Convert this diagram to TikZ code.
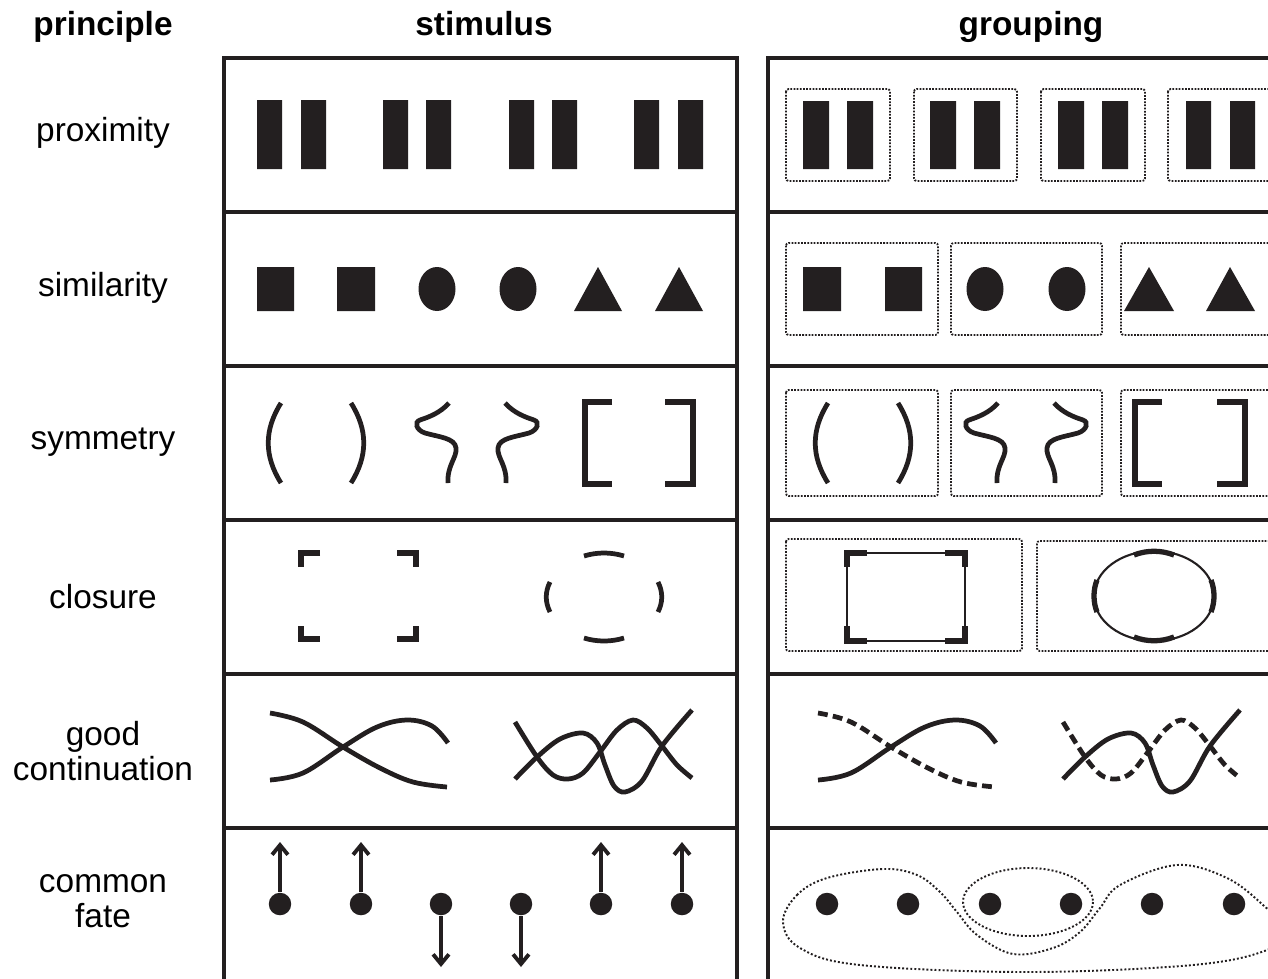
\documentclass[tikz,border=0pt]{standalone}
\usepackage{fontspec}
\setmainfont{Liberation Sans}
\usetikzlibrary{arrows.meta}

\begin{document}
\begin{tikzpicture}[x=0.02cm, y=-0.02cm,
        every node/.style={font=\fontsize{19}{20}\selectfont, align=center, inner sep=0pt},
        heading/.style={font=\fontsize{19}{20}\selectfont\bfseries, anchor=base},
        panel/.style={draw=ink, line width=1.75pt},
        stroke/.style={draw=ink, line width=2.7pt},
        hairline/.style={draw=ink, line width=1.2pt},
        corner/.style={draw=ink, line width=3pt},
        dashedstroke/.style={stroke, dash pattern=on 5.6pt off 3pt},
        groupbox/.style={draw=ink, line width=1.05pt, dash pattern=on 1pt off 0.8pt, rounded corners=1.5pt},
        groupline/.style={draw=ink, line width=1.1pt, dash pattern=on 1.1pt off 1.2pt},
        dot/.style={circle, fill=ink, minimum size=12.8pt},
        move/.style={draw=ink, line width=2pt, -{Straight Barb[length=5.5pt, width=9pt, line width=2.2pt]}},
        ]

        \definecolor{ink}{RGB}{35, 31, 32}

        \newcommand\drawsquiggle[2]{%
            \draw[stroke, shift={(#1,403)}, xscale=#2]
                (0,0) .. controls (-9,10) and (-20,14) .. (-29,17)
                .. controls (-35,19) and (-33,27) .. (-24,30)
                .. controls (-10,34) and (6,35) .. (7,45)
                .. controls (8,55) and (-2,62) .. (-1,80);
        }

        \useasboundingbox (0,0) rectangle (1268,978);
        \clip (0,0) rectangle (1268,978);

        \node[heading] (principle) at (103,35) {principle};
        \node[heading] (stimulus) at (484,35) {stimulus};
        \node[heading] (grouping) at (1031,35) {grouping};

        \node (proximity) at (103,133) {proximity};
        \node (similarity) at (103,288) {similarity};
        \node (symmetry) at (103,442) {symmetry};
        \node (closure) at (103,597) {closure};
        \node (continuation) at (103,751) {good\\continuation};
        \node (fate) at (103,901) {common\\fate};

        \draw[panel] (224,58) rectangle (737,995);
        \draw[panel] (224,212) -- (737,212) (224,366) -- (737,366) (224,520) -- (737,520)
            (224,674) -- (737,674) (224,828) -- (737,828);
        \draw[panel] (768,58) rectangle (1281,995);
        \draw[panel] (768,212) -- (1281,212) (768,366) -- (1281,366) (768,520) -- (1281,520)
            (768,674) -- (1281,674) (768,828) -- (1281,828);

        % proximity
        \fill[ink] (257,100) rectangle (282,169) (301,100) rectangle (326,169)
            (383,100) rectangle (408,169) (426,100) rectangle (451,169)
            (509,100) rectangle (534,169) (552,100) rectangle (577,169)
            (634,100) rectangle (659,169) (678,100) rectangle (703,169);
        \draw[groupbox] (786,89) rectangle (890,181) (914,89) rectangle (1017,181)
            (1041,89) rectangle (1145,181) (1168,89) rectangle (1272,181);
        \fill[ink] (803,101) rectangle (829,169) (847,101) rectangle (873,169)
            (930,101) rectangle (956,169) (974,101) rectangle (1000,169)
            (1058,101) rectangle (1084,169) (1102,101) rectangle (1128,169)
            (1186,101) rectangle (1211,169) (1230,101) rectangle (1255,169);

        % similarity
        \fill[ink] (257,267) rectangle (294,311) (337,267) rectangle (375,311)
            (437,289) ellipse [x radius=18.5, y radius=22] (518,289) ellipse [x radius=18.5, y radius=22]
            (574,311) -- (598,267) -- (622,311) -- cycle (655,311) -- (679,267) -- (703,311) -- cycle;
        \draw[groupbox] (786,243) rectangle (938,335) (951,243) rectangle (1102,335)
            (1121,243) rectangle (1275,335);
        \fill[ink] (803,267) rectangle (841,311) (885,267) rectangle (922,311)
            (985,289) ellipse [x radius=18.5, y radius=22] (1067,289) ellipse [x radius=18.5, y radius=22]
            (1124,311) -- (1149,267) -- (1174,311) -- cycle (1206,311) -- (1230,267) -- (1255,311) -- cycle;

        % symmetry
        \draw[stroke] (281,403) .. controls (264,430) and (264,456) .. (281,483);
        \draw[stroke] (351,403) .. controls (368,430) and (368,456) .. (351,483);
        \drawsquiggle{449}{1}
        \drawsquiggle{505}{-1}
        \draw[stroke, line width=2.9pt] (612,402) -| (585,484) -- (612,484);
        \draw[stroke, line width=2.9pt] (665,402) -| (693,484) -- (665,484);
        \draw[groupbox] (786,390) rectangle (938,496) (951,390) rectangle (1102,496)
            (1121,390) rectangle (1275,496);
        \draw[stroke] (828,403) .. controls (811,430) and (811,456) .. (828,483);
        \draw[stroke] (898,403) .. controls (915,430) and (915,456) .. (898,483);
        \drawsquiggle{998}{1}
        \drawsquiggle{1054}{-1}
        \draw[stroke, line width=2.9pt] (1162,402) -| (1135,484) -- (1162,484);
        \draw[stroke, line width=2.9pt] (1217,402) -| (1245,484) -- (1217,484);

        % closure
        \draw[corner] (320,553) -| (301,567) (397,553) -| (416,567)
            (301,626) |- (320,639) (416,626) |- (397,639);
        \draw[stroke] (584,556) .. controls (597,552) and (611,552) .. (624,556)
            (584,638) .. controls (597,642) and (611,642) .. (624,638)
            (550,582) .. controls (545,592) and (545,602) .. (550,612)
            (658,582) .. controls (663,592) and (663,602) .. (658,612);
        \draw[groupbox] (786,539) rectangle (1022,651) (1037,541) rectangle (1290,651);
        \draw[hairline] (847,553) rectangle (965,641);
        \draw[corner, line width=3.3pt] (867,553) -| (847,567) (945,553) -| (965,567)
            (847,626) |- (867,641) (965,626) |- (945,641);
        \draw[hairline] (1154,596) ellipse [x radius=60, y radius=45];
        \draw[stroke, line width=3pt] (1134,555) .. controls (1147,550) and (1161,550) .. (1174,555)
            (1134,637) .. controls (1147,642) and (1161,642) .. (1174,637)
            (1097,580) .. controls (1093,590) and (1093,602) .. (1097,612)
            (1211,580) .. controls (1215,590) and (1215,602) .. (1211,612);

        % good continuation
        \draw[stroke] plot[smooth, tension=0.6] coordinates {(270,713) (303,722) (343,747) (380,768) (413,782) (447,787)};
        \draw[stroke] plot[smooth, tension=0.6] coordinates {(270,780) (303,773) (343,747) (377,727) (407,720) (432,726) (448,743)};
        \draw[stroke] plot[smooth, tension=0.55] coordinates {(515,722) (537,757) (553,775) (568,779) (583,773) (600,752) (617,730) (633,720) (647,728) (662,746) (677,765) (692,778)};
        \draw[stroke] plot[smooth, tension=0.55] coordinates {(515,779) (537,757) (560,739) (583,733) (597,743) (605,765) (614,786) (625,792) (642,781) (662,746) (692,710)};
        \begin{scope}[shift={(548,0)}]
            \draw[dashedstroke] plot[smooth, tension=0.6] coordinates {(270,713) (303,722) (343,747) (380,768) (413,782) (447,787)};
            \draw[stroke] plot[smooth, tension=0.6] coordinates {(270,780) (303,773) (343,747) (377,727) (407,720) (432,726) (448,743)};
            \draw[dashedstroke] plot[smooth, tension=0.55] coordinates {(515,722) (537,757) (553,775) (568,779) (583,773) (600,752) (617,730) (633,720) (647,728) (662,746) (677,765) (692,778)};
            \draw[stroke] plot[smooth, tension=0.55] coordinates {(515,779) (537,757) (560,739) (583,733) (597,743) (605,765) (614,786) (625,792) (642,781) (662,746) (692,710)};
        \end{scope}

        % common fate
        \node[dot] (s1) at (280,904) {};
        \node[dot] (s2) at (361,904) {};
        \node[dot] (s3) at (441,904) {};
        \node[dot] (s4) at (521,904) {};
        \node[dot] (s5) at (601,904) {};
        \node[dot] (s6) at (682,904) {};
        \coordinate (s1 tip) at (280,842);
        \coordinate (s2 tip) at (361,842);
        \coordinate (s3 tip) at (441,967);
        \coordinate (s4 tip) at (521,967);
        \coordinate (s5 tip) at (601,842);
        \coordinate (s6 tip) at (682,842);
        \draw[move] (s1) -- (s1 tip);
        \draw[move] (s2) -- (s2 tip);
        \draw[move] (s3) -- (s3 tip);
        \draw[move] (s4) -- (s4 tip);
        \draw[move] (s5) -- (s5 tip);
        \draw[move] (s6) -- (s6 tip);

        \node[dot] (g1) at (827,904) {};
        \node[dot] (g2) at (908,904) {};
        \node[dot] (g3) at (990,904) {};
        \node[dot] (g4) at (1071,904) {};
        \node[dot] (g5) at (1152,904) {};
        \node[dot] (g6) at (1234,904) {};
        \draw[groupline] (1028,902) ellipse [x radius=65, y radius=34];
        \draw[groupline] plot[smooth cycle, tension=0.6] coordinates {(783,922) (797,895) (827,878) (883,869)
            (917,875) (940,892) (957,912) (977,935) (1013,954) (1053,948) (1080,932) (1100,908) (1120,885)
            (1177,865) (1227,878) (1263,905) (1285,930) (1267,950) (1193,965) (1027,972) (860,965) (800,948)};

    \end{tikzpicture}
\end{document}
